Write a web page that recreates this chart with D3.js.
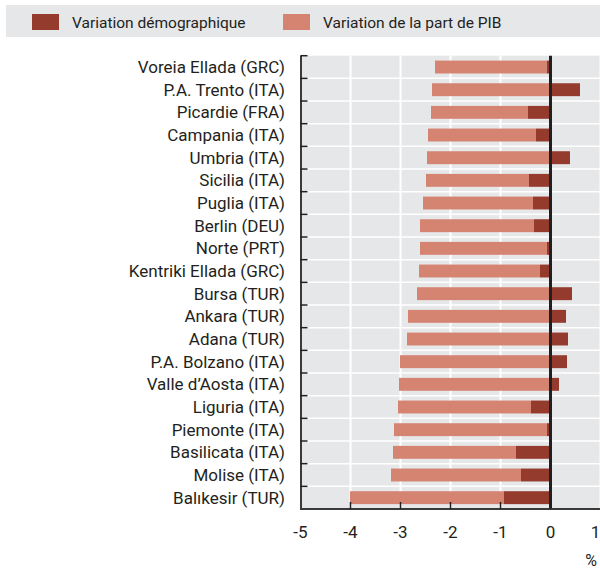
<!DOCTYPE html>
<html>
<head>
<meta charset="utf-8">
<script src="https://cdn.jsdelivr.net/npm/d3@7"></script>
<style>
  body { margin: 0; background: #fff; }
  text { font-family: "Roboto", "Liberation Sans", sans-serif; fill: #231f20; }
</style>
</head>
<body>
<div id="chart"></div>
<script>
// regions, top to bottom
const categories = [
  "Voreia Ellada (GRC)", "P.A. Trento (ITA)", "Picardie (FRA)", "Campania (ITA)",
  "Umbria (ITA)", "Sicilia (ITA)", "Puglia (ITA)", "Berlin (DEU)", "Norte (PRT)",
  "Kentriki Ellada (GRC)", "Bursa (TUR)", "Ankara (TUR)", "Adana (TUR)",
  "P.A. Bolzano (ITA)", "Valle d\u2019Aosta (ITA)", "Liguria (ITA)", "Piemonte (ITA)",
  "Basilicata (ITA)", "Molise (ITA)", "Bal\u0131kesir (TUR)"
];
// demographic component (dark)
const demo = [-0.08, 0.59, -0.45, -0.29, 0.39, -0.43, -0.35, -0.33, -0.07, -0.21,
  0.43, 0.31, 0.35, 0.33, 0.17, -0.39, -0.07, -0.69, -0.59, -0.93];
// GDP share component (light)
const pib = [-2.23, -2.37, -1.94, -2.16, -2.47, -2.06, -2.20, -2.28, -2.54, -2.42,
  -2.67, -2.85, -2.87, -3.01, -3.03, -2.66, -3.06, -2.46, -2.60, -3.08];
const xTicks = [-5, -4, -3, -2, -1, 0, 1];
const seriesNames = ["Variation d\u00e9mographique", "Variation de la part de PIB"];
const colors = ["#943b2e", "#d68472"];

const width = 600, height = 570;
const plot = { left: 300.5, right: 600.5, top: 55.7, bottom: 509 };

const svg = d3.select("#chart").append("svg")
  .attr("width", width).attr("height", height);

const x = d3.scaleLinear().domain([-5, 1]).range([plot.left, plot.right]);
const y = d3.scaleBand().domain(categories).range([plot.top, plot.bottom])
  .paddingInner(0.43).paddingOuter(0.215);
const step = y.step();

const table = categories.map((c, i) => ({ cat: c, demo: demo[i], pib: pib[i] }));
const stacked = d3.stack().keys(["demo", "pib"]).offset(d3.stackOffsetDiverging)(table);

// legend
svg.append("rect").attr("x", 6).attr("y", 5).attr("width", 594).attr("height", 32)
  .attr("fill", "#e6e7e9");
const legX = [32, 283];
seriesNames.forEach((n, i) => {
  svg.append("rect").attr("x", legX[i]).attr("y", 14).attr("width", 27).attr("height", 16)
    .attr("fill", colors[i]);
  svg.append("text").attr("x", legX[i] + 40).attr("y", 27.5)
    .attr("font-size", 15.5).text(n);
});

// plot background
svg.append("rect").attr("x", plot.left).attr("y", plot.top)
  .attr("width", plot.right - plot.left).attr("height", plot.bottom - plot.top)
  .attr("fill", "#e6e7e9");

// horizontal separators
svg.append("g").selectAll("line").data(categories.slice(1)).join("line")
  .attr("x1", plot.left).attr("x2", plot.right)
  .attr("y1", d => y(d) - step * y.paddingInner() / 2)
  .attr("y2", d => y(d) - step * y.paddingInner() / 2)
  .attr("stroke", "#fff").attr("stroke-width", 1.5);

// vertical grid
svg.append("g").selectAll("line").data(xTicks.filter(d => d > -5)).join("line")
  .attr("x1", d => x(d)).attr("x2", d => x(d))
  .attr("y1", plot.top).attr("y2", plot.bottom)
  .attr("stroke", "#fff").attr("stroke-width", 2);

// bars
svg.append("g").selectAll("g").data(stacked).join("g")
  .attr("fill", (d, i) => colors[i])
  .selectAll("rect").data(d => d).join("rect")
  .attr("x", d => x(Math.min(d[0], d[1])))
  .attr("width", d => Math.abs(x(d[1]) - x(d[0])))
  .attr("y", d => y(d.data.cat))
  .attr("height", y.bandwidth());

// zero line
svg.append("line").attr("x1", x(0)).attr("x2", x(0))
  .attr("y1", plot.top).attr("y2", plot.bottom)
  .attr("stroke", "#231f20").attr("stroke-width", 3);

// left axis
svg.append("line").attr("x1", plot.left + 0.5).attr("x2", plot.left + 0.5)
  .attr("y1", plot.top).attr("y2", plot.bottom + 1)
  .attr("stroke", "#3a3a3a").attr("stroke-width", 2);
svg.append("g").selectAll("line").data(categories).join("line")
  .attr("x1", plot.left).attr("x2", plot.left + 7)
  .attr("y1", d => y(d) - step * y.paddingInner() / 2)
  .attr("y2", d => y(d) - step * y.paddingInner() / 2)
  .attr("stroke", "#231f20").attr("stroke-width", 1.5);

svg.append("g").selectAll("text").data(categories).join("text")
  .attr("x", 285).attr("y", d => y(d) + y.bandwidth() / 2)
  .attr("dy", "0.35em").attr("text-anchor", "end")
  .attr("font-size", 17).text(d => d);

// bottom axis
svg.append("line").attr("x1", plot.left).attr("x2", plot.right)
  .attr("y1", plot.bottom).attr("y2", plot.bottom)
  .attr("stroke", "#3a3a3a").attr("stroke-width", 2);
svg.append("g").selectAll("line").data(xTicks.filter(d => d > -5 && d < 1)).join("line")
  .attr("x1", d => x(d)).attr("x2", d => x(d))
  .attr("y1", plot.bottom - 7).attr("y2", plot.bottom)
  .attr("stroke", "#231f20").attr("stroke-width", 1.5);
svg.append("g").selectAll("text").data(xTicks).join("text")
  .attr("x", d => d === 1 ? x(d) - 5 : x(d)).attr("y", 538).attr("text-anchor", "middle")
  .attr("font-size", 17).text(d => String(d));

svg.append("text").attr("x", 597).attr("y", 566).attr("text-anchor", "end")
  .attr("font-size", 16).text("%");
</script>
</body>
</html>
